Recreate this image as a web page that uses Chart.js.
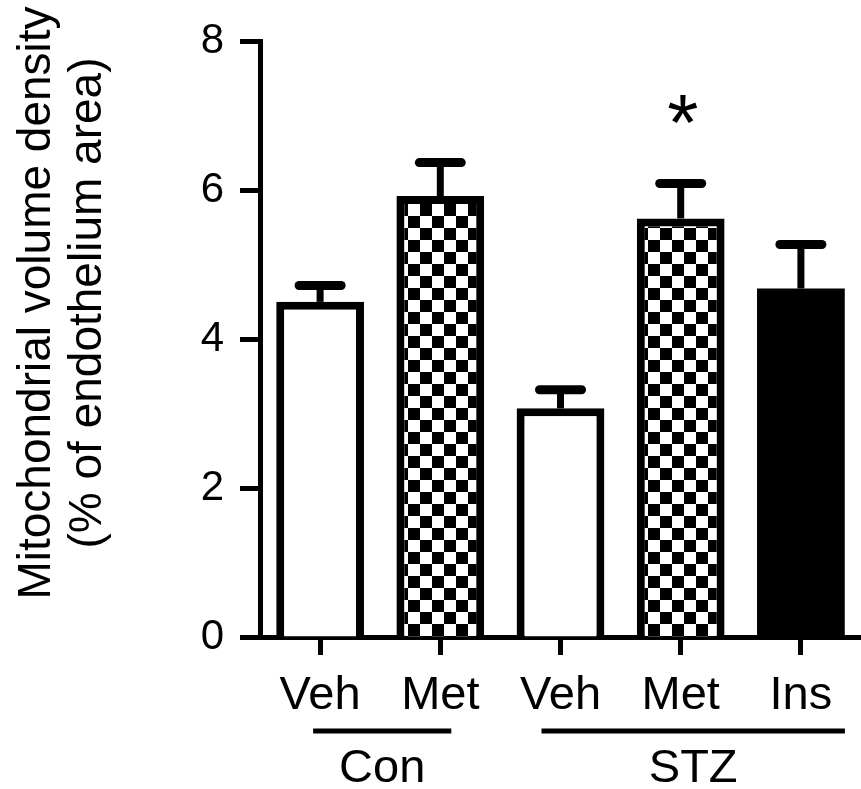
<!DOCTYPE html>
<html>
<head>
<meta charset="utf-8">
<script src="https://cdn.jsdelivr.net/npm/chart.js@4.4.1/dist/chart.umd.min.js"></script>
<style>
  body { margin: 0; background: #fff; }
</style>
</head>
<body>
<canvas id="barChart" width="861" height="789"></canvas>
<script>
// data
var categories = ['Veh', 'Met', 'Veh', 'Met', 'Ins'];
var means = [4.50, 5.92, 3.07, 5.62, 4.68];
var sems = [0.22, 0.45, 0.25, 0.47, 0.59];
var fills = ['white', 'check', 'white', 'check', 'black'];
var sigLabels = ['', '', '', '*', ''];
var groupLabels = ['Con', 'STZ'];
var groupFirst = [0, 2];
var groupLast = [1, 4];
var yTicks = [0, 2, 4, 6, 8];

var FONT = 'Arial, "Liberation Sans", Helvetica, sans-serif';

// checkerboard fill
var pc = document.createElement('canvas');
pc.width = 24; pc.height = 24;
var pctx = pc.getContext('2d');
pctx.fillStyle = '#fff';
pctx.fillRect(0, 0, 24, 24);
pctx.fillStyle = '#000';
pctx.fillRect(0, 0, 12, 12);
pctx.fillRect(12, 12, 12, 12);

var ctx = document.getElementById('barChart').getContext('2d');
var checker = ctx.createPattern(pc, 'repeat');

var bgColors = fills.map(function (f) {
    if (f === 'check') return checker;
    if (f === 'black') return '#000';
    return '#fff';
});
// solid black bar needs no separate outline
var borderWidths = fills.map(function (f) { return f === 'black' ? 0 : 8; });

var extras = {
    id: 'extras',
    afterDatasetsDraw: function (chart) {
        var c = chart.ctx;
        var y = chart.scales.y;
        var x = chart.scales.x;
        var bars = chart.getDatasetMeta(0).data;
        c.save();
        c.strokeStyle = '#000';
        c.fillStyle = '#000';
        // error bars
        bars.forEach(function (bar, i) {
            var top = y.getPixelForValue(means[i] + sems[i]);
            c.lineCap = 'butt';
            c.lineWidth = 7;
            c.beginPath();
            c.moveTo(bar.x, bar.y);
            c.lineTo(bar.x, top);
            c.stroke();
            c.lineCap = 'round';
            c.lineWidth = 9;
            c.beginPath();
            c.moveTo(bar.x - 21, top);
            c.lineTo(bar.x + 21, top);
            c.stroke();
            if (sigLabels[i]) {
                c.font = '80px ' + FONT;
                c.textAlign = 'center';
                c.textBaseline = 'alphabetic';
                c.fillText(sigLabels[i], bar.x + 2, top - 33);
            }
        });
        // group underlines and names
        c.lineCap = 'butt';
        c.lineWidth = 5;
        c.font = '47px ' + FONT;
        c.textAlign = 'center';
        c.textBaseline = 'alphabetic';
        for (var g = 0; g < groupLabels.length; g++) {
            var x0 = x.getPixelForValue(groupFirst[g]) - (g === 0 ? 7 : 19);
            var x1 = x.getPixelForValue(groupLast[g]) + (g === 0 ? 11 : 44);
            c.beginPath();
            c.moveTo(x0, 731);
            c.lineTo(x1, 731);
            c.stroke();
            c.fillText(groupLabels[g], (x0 + x1) / 2, 782);
        }
        // y axis title
        c.translate(0, 303);
        c.rotate(-Math.PI / 2);
        c.font = '46px ' + FONT;
        c.fillText('Mitochondrial volume density', 0, 50);
        c.fillText('(% of endothelium area)', 0, 101);
        c.restore();
    }
};

var myChart = new Chart(ctx, {
    type: 'bar',
    data: {
        labels: categories,
        datasets: [{
            data: means,
            backgroundColor: bgColors,
            borderColor: '#000',
            borderWidth: borderWidths,
            borderSkipped: 'bottom',
            barPercentage: 0.73,
            categoryPercentage: 1
        }]
    },
    options: {
        responsive: false,
        animation: false,
        layout: {
            padding: { left: 0, top: 39, right: 0, bottom: 0 }
        },
        plugins: {
            legend: { display: false },
            tooltip: { enabled: false }
        },
        scales: {
            x: {
                afterFit: function (s) { s.height = 152; },
                grid: {
                    display: true,
                    drawOnChartArea: false,
                    offset: false,
                    tickLength: 18,
                    tickWidth: 5,
                    tickColor: '#000'
                },
                border: { display: true, width: 5, color: '#000' },
                ticks: {
                    color: '#000',
                    padding: 13,
                    font: { family: FONT, size: 47 }
                }
            },
            y: {
                min: 0,
                max: 8,
                afterFit: function (s) { s.width = 260; },
                afterBuildTicks: function (s) {
                    s.ticks = yTicks.map(function (v) { return { value: v }; });
                },
                grid: {
                    display: true,
                    drawOnChartArea: false,
                    tickLength: 20,
                    tickWidth: 5,
                    tickColor: '#000'
                },
                border: { display: true, width: 5, color: '#000' },
                ticks: {
                    color: '#000',
                    padding: 16,
                    font: { family: FONT, size: 42 }
                }
            }
        }
    },
    plugins: [extras]
});
</script>
</body>
</html>
